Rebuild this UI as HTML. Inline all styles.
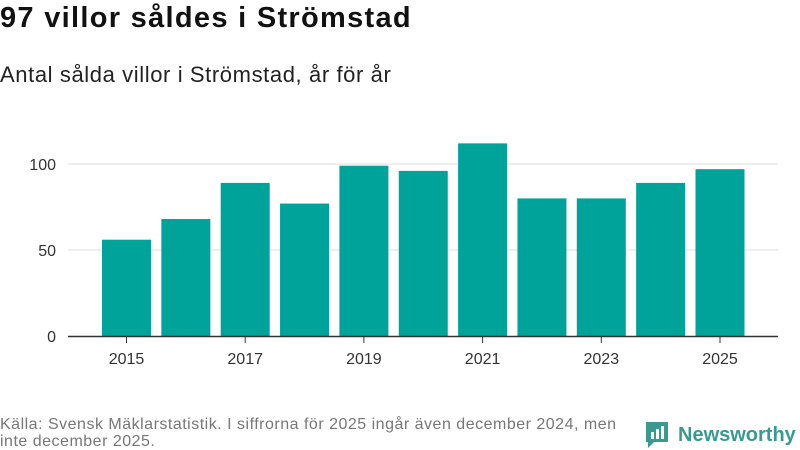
<!DOCTYPE html>
<html><head><meta charset="utf-8"><style>
body{margin:0;width:800px;height:450px;background:#fff;font-family:"Liberation Sans","DejaVu Sans",sans-serif;overflow:hidden;position:relative}
.t{position:absolute;left:0;top:2px;font-size:29px;font-weight:bold;color:#111;letter-spacing:1.3px}
.s{position:absolute;left:0;top:62px;font-size:22px;color:#222;letter-spacing:0.6px}
.f{position:absolute;left:0;top:416px;font-size:16px;color:#777;line-height:17px;width:642px;letter-spacing:0.5px}
.logo{position:absolute;left:644px;top:420px;display:flex;align-items:center;color:#3a9a91;font-weight:bold;font-size:20px}
</style></head><body>
<div class="t">97 villor såldes i Strömstad</div>
<div class="s">Antal sålda villor i Strömstad, år för år</div>
<svg id="c" width="800" height="450" style="position:absolute;left:0;top:0"></svg>
<div class="f">Källa: Svensk Mäklarstatistik. I siffrorna för 2025 ingår även december 2024, men inte december 2025.</div>
<div class="logo">
<svg width="26" height="30" viewBox="0 0 26 30"><path d="M2 2h22v20H10l-6 6v-6H2z" fill="#3a9a91"/><rect x="7" y="12" width="3" height="7" fill="#fff"/><rect x="12" y="9" width="3" height="10" fill="#fff"/><rect x="17" y="6" width="3" height="13" fill="#fff"/></svg>
<span style="margin-left:8px">Newsworthy</span></div>
<script>
const years=[2015,2016,2017,2018,2019,2020,2021,2022,2023,2024,2025];
const values=[56,68,89,77,99,96,112,80,80,89,97];
const yTicks=[0,50,100];
const xTickLabels=[2015,2017,2019,2021,2023,2025];
const svg=document.getElementById('c');const NS='http://www.w3.org/2000/svg';
const y=v=>336-v*1.72;const x=i=>126.5+i*59.35;
function mk(t,a){const e=document.createElementNS(NS,t);for(const k in a)e.setAttribute(k,a[k]);svg.appendChild(e);return e;}
yTicks.forEach(v=>{
 if(v>0){const g=mk('line',{x1:68,x2:778,y1:y(v),y2:y(v),stroke:'#ddd','stroke-width':1});
 
 }
 const t=mk('text',{x:56,y:y(v)+6,'text-anchor':'end','font-size':16,fill:'#333','font-family':'Liberation Sans, sans-serif'});t.textContent=v;
 
 
});
values.forEach((v,i)=>{
 const r=mk('rect',{x:x(i)-24.5,y:y(v),width:49,height:336-y(v),fill:'#00a39a'});
 
 
});
const ax=mk('line',{x1:68,x2:778,y1:336.5,y2:336.5,stroke:'#333','stroke-width':1.5});


xTickLabels.forEach(yr=>{
 const i=years.indexOf(yr);
 const tk=mk('line',{x1:x(i),x2:x(i),y1:337,y2:343,stroke:'#333'});
 
 
 const t=mk('text',{x:x(i),y:364,'text-anchor':'middle','font-size':16,fill:'#333','font-family':'Liberation Sans, sans-serif'});t.textContent=yr;
 
 
});
</script>
</body></html>
